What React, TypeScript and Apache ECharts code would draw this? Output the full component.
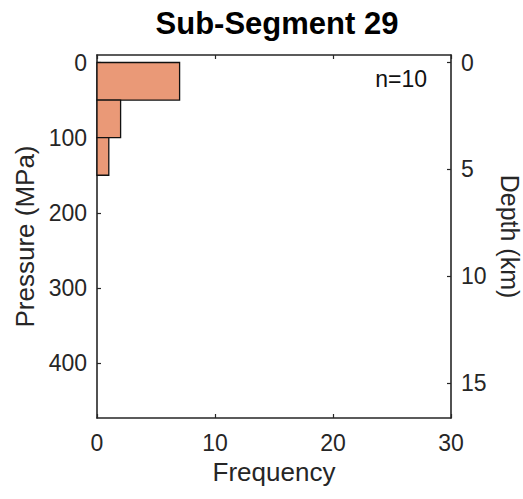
import React, { useEffect, useRef } from "react";
import * as echarts from "echarts";

const binStarts = [0, 50, 100];
const binEnds = [50, 100, 150];
const counts = [7, 2, 1];
const pressureTicks = [0, 100, 200, 300, 400];
const depthTicks = [0, 5, 10, 15];
const titleText = "Sub-Segment 29";
const nLabel = "n=10";

const FONT = "'Liberation Sans', Arial, Helvetica, sans-serif";
const INK = "#262626";

export default function App() {
  const ref = useRef<HTMLDivElement>(null);
  useEffect(() => {
    if (!ref.current) return;
    const chart = echarts.init(ref.current, null, { renderer: "svg" });
    const data = binStarts.map((s, i) => [s, binEnds[i], counts[i]]);
    const axisLine = { show: true, onZero: false, lineStyle: { color: INK, width: 1.6 } };
    const tick = (vals?: number[]) => ({
      show: true,
      inside: true,
      length: 4,
      ...(vals ? { customValues: vals } : {}),
      lineStyle: { color: INK, width: 1.2 },
    });
    chart.setOption({
      animation: false,
      backgroundColor: "#ffffff",
      textStyle: { fontFamily: FONT },
      title: {
        text: titleText,
        left: 272,
        textAlign: "center",
        top: 3,
        textStyle: { fontFamily: FONT, fontWeight: "bold", fontSize: 31, color: "#000" },
      },
      grid: { left: 97, right: 72, top: 55, bottom: 81, containLabel: false, outerBoundsMode: "none" },
      xAxis: [
        {
          type: "value",
          position: "bottom",
          min: 0,
          max: 30,
          interval: 10,
          name: "Frequency",
          nameLocation: "middle",
          nameGap: 33,
          nameTextStyle: { fontFamily: FONT, fontSize: 26, color: INK },
          axisLine,
          axisTick: tick(),
          axisLabel: { fontFamily: FONT, fontSize: 23, color: INK, margin: 13, showMaxLabel: true, showMinLabel: true },
          splitLine: { show: false },
        },
        {
          type: "value",
          position: "top",
          min: 0,
          max: 30,
          interval: 10,
          axisLine,
          axisTick: tick(),
          axisLabel: { show: false },
          splitLine: { show: false },
        },
      ],
      yAxis: [
        {
          type: "value",
          position: "left",
          inverse: true,
          min: -10,
          max: 473,
          name: "Pressure (MPa)",
          nameLocation: "middle",
          nameGap: 58,
          nameTextStyle: { fontFamily: FONT, fontSize: 26, color: INK },
          axisLine,
          axisTick: tick(pressureTicks),
          axisLabel: { fontFamily: FONT, fontSize: 23, color: INK, margin: 10, customValues: pressureTicks },
          splitLine: { show: false },
        },
        {
          type: "value",
          position: "right",
          inverse: true,
          min: -10 / 28.43,
          max: 473 / 28.43,
          name: "Depth (km)",
          nameLocation: "middle",
          nameGap: 38,
          nameRotate: -90,
          nameTextStyle: { fontFamily: FONT, fontSize: 25, color: INK },
          axisLine,
          axisTick: tick(depthTicks),
          axisLabel: { fontFamily: FONT, fontSize: 23, color: INK, margin: 10, customValues: depthTicks },
          splitLine: { show: false },
        },
      ],
      graphic: [
        {
          type: "text",
          x: 427,
          y: 79,
          style: {
            text: nLabel,
            fontFamily: FONT,
            fontSize: 23,
            fill: "#111",
            textAlign: "right",
            textVerticalAlign: "middle",
          },
        },
      ],
      series: [
        {
          type: "custom",
          xAxisIndex: 0,
          yAxisIndex: 0,
          encode: { x: 2, y: [0, 1] },
          data,
          renderItem: (params: any, api: any) => {
            const p1 = api.coord([0, api.value(0)]);
            const p2 = api.coord([api.value(2), api.value(1)]);
            return {
              type: "rect",
              shape: { x: p1[0], y: p1[1], width: p2[0] - p1[0], height: p2[1] - p1[1] },
              style: { fill: "#EA9977", stroke: "#111", lineWidth: 1.3 },
            };
          },
        },
      ],
    });
    return () => chart.dispose();
  }, []);
  return (
    <div
      ref={ref}
      style={{ position: "fixed", left: 0, top: 0, width: 523, height: 499, background: "#fff" }}
    />
  );
}
